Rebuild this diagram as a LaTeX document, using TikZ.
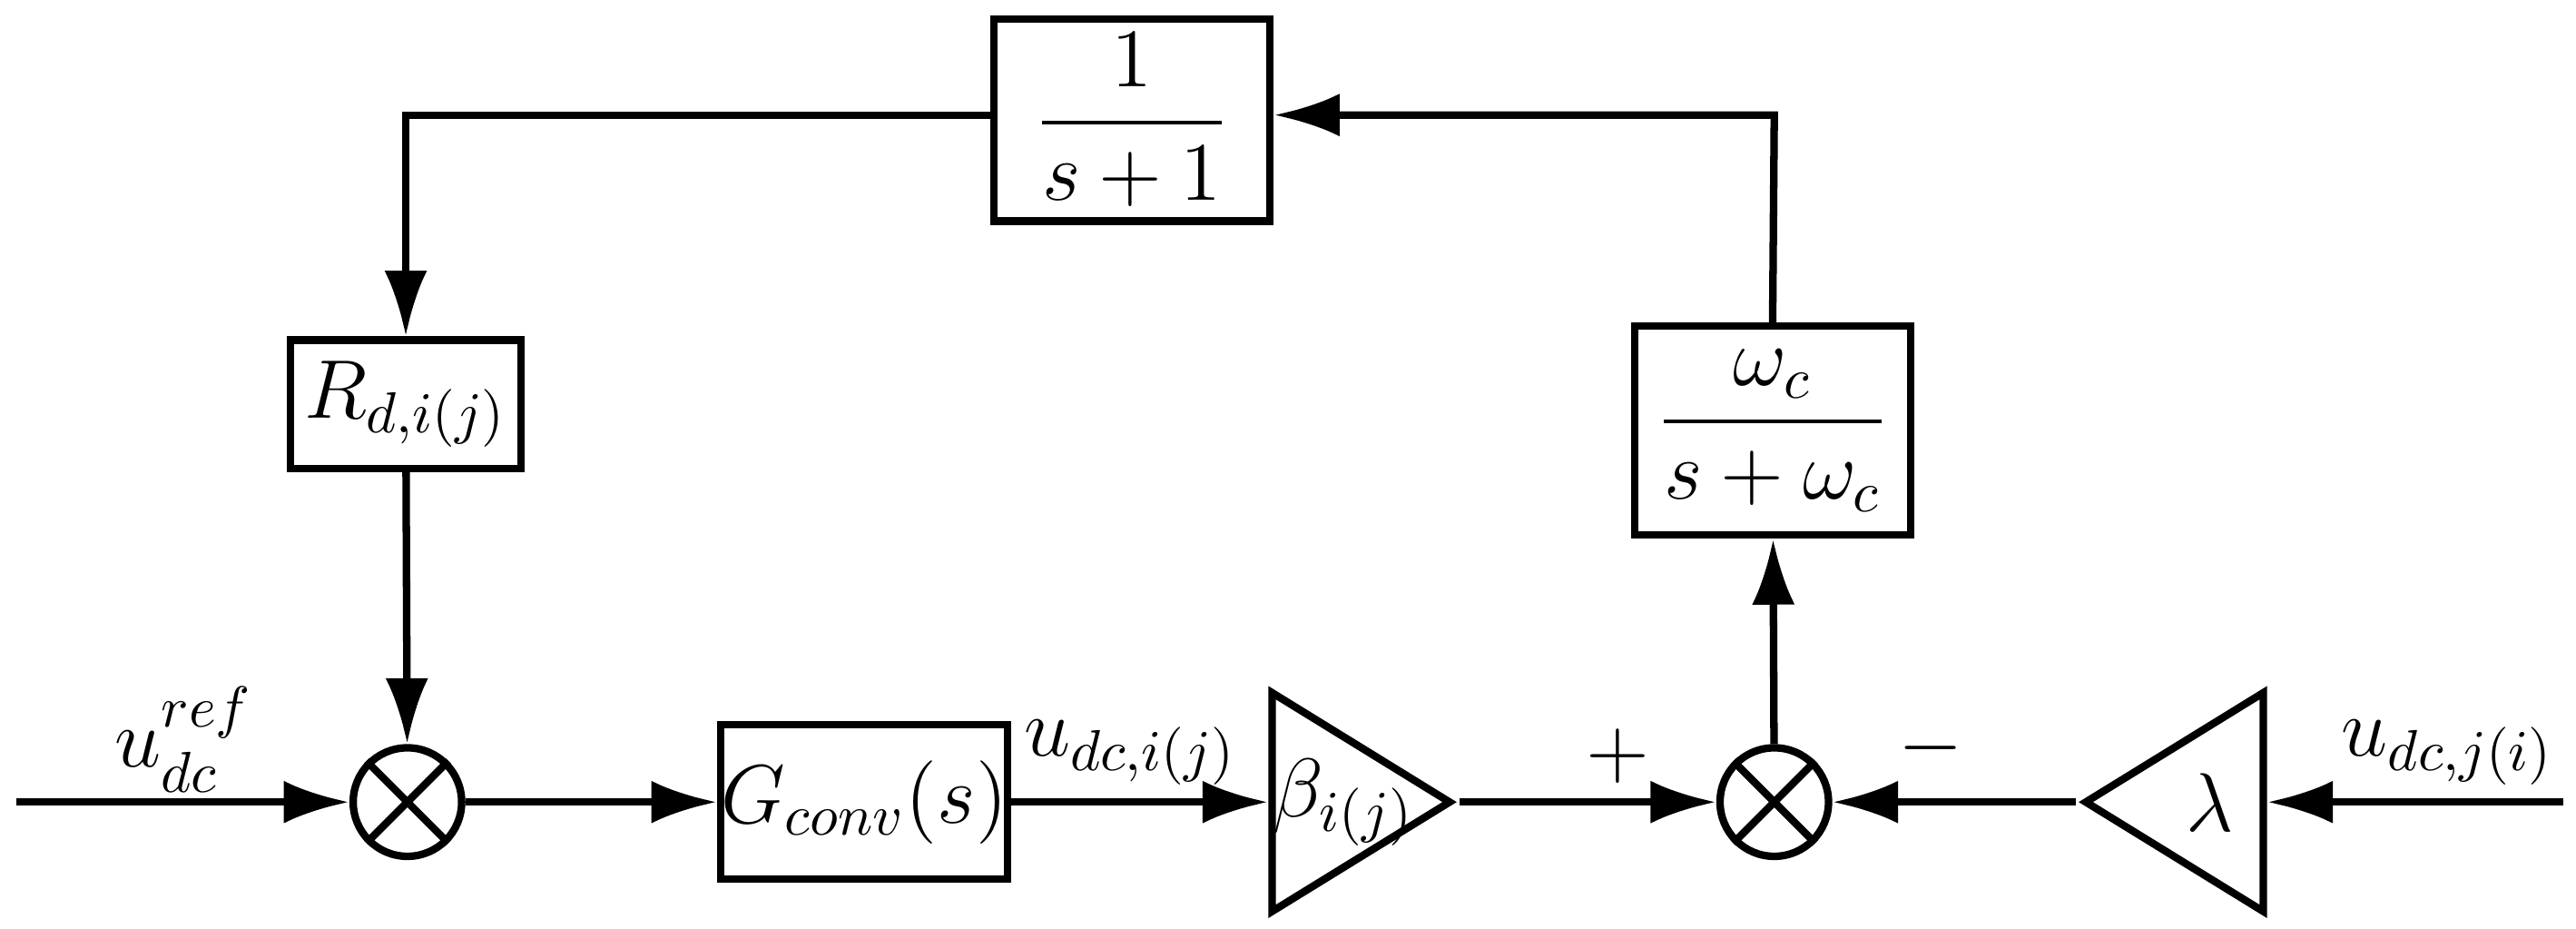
\documentclass[tikz,border=0pt]{standalone}
\usepackage{amsmath}
\usepackage{tikz}
\usetikzlibrary{positioning,shapes.geometric,arrows.meta}

\begin{document}
\begin{tikzpicture}[x=0.01cm,y=-0.01cm,line width=1.3pt,
  blk/.style={rectangle,draw,inner sep=0pt,font=\Large},
  sum/.style={circle,draw,minimum size=0.66cm,inner sep=0pt},
  gain/.style={isosceles triangle,isosceles triangle stretches,draw,inner sep=0pt,
    minimum width=1.33cm,minimum height=1.08cm,font=\Large},
  arr/.style={-{Latex[length=4mm,width=2.6mm]}}]
  \useasboundingbox (0,0) rectangle (1568,565);
  \node(sumA)[sum] at (248,488){};
  \node(gconv)[blk,minimum width=1.67cm,minimum height=0.94cm] at (526,488){$G_{conv}(s)$};
  \node(beta)[gain,anchor=west] at (772,488){};
  \node at (818,488){\Large$\beta_{i(j)}$};
  \node(sumB)[sum] at (1080,488){};
  \node(lambda)[gain,shape border rotate=180,anchor=east] at (1380,488){};
  \node at (1345,488){\Large$\lambda$};
  \node(lpf)[blk,minimum width=1.68cm,minimum height=1.27cm] at (1079,262){$\dfrac{\omega_c}{s+\omega_c}$};
  \node(fil)[blk,minimum width=1.68cm,minimum height=1.23cm] at (689,73){$\dfrac{1}{s+1}$};
  \node(rd)[blk,minimum width=1.40cm,minimum height=0.78cm] at (247,246){$R_{d,i(j)}$};
  \coordinate(in) at (10,488);
  \coordinate(inB) at (1560,488);
  \coordinate(cornerA) at (1080,70);
  \coordinate(cornerB) at (247,70);
  % cross marks of the summers
  \draw (sumA.45)--(sumA.225) (sumA.135)--(sumA.315);
  \draw (sumB.45)--(sumB.225) (sumB.135)--(sumB.315);
  % connectors
\draw[arr](in)--(sumA);
\draw[arr](sumA)--(gconv);
\draw[arr](gconv)--(beta);
\draw[arr](beta.apex)--(sumB);
\draw[arr](inB)--(lambda.east);
\draw[arr](lambda.apex)--(sumB);
\draw[arr](sumB)--(lpf);
\draw[arr](lpf.north)--(cornerA)--(fil.east|-cornerA);
\draw[arr](fil.west|-cornerB)--(cornerB)--(rd.north);
\draw[arr](rd)--(sumA);
  % labels
  \node at (112,450){\Large$u_{dc}^{ref}$};
  \node at (688,458){\Large$u_{dc,i(j)}$};
  \node at (985,460){\Large$+$};
  \node at (1175,455){\Large$-$};
  \node at (1490,458){\Large$u_{dc,j(i)}$};
\end{tikzpicture}
\end{document}
